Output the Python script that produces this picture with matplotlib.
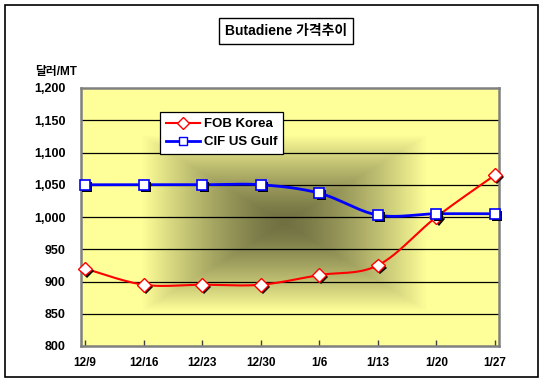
import numpy as np
import matplotlib
matplotlib.use("Agg")
import matplotlib.pyplot as plt
import matplotlib.patheffects as pe
from matplotlib.patches import Rectangle

plt.rcParams['font.family'] = ['Liberation Sans', 'Noto Sans CJK KR', 'DejaVu Sans']
plt.rcParams['font.weight'] = 'bold'

categories = ['12/9', '12/16', '12/23', '12/30', '1/6', '1/13', '1/20', '1/27']
fob_korea = [920, 895, 895, 895, 910, 925, 1000, 1065]
cif_us_gulf = [1050, 1050, 1050, 1050, 1037, 1003, 1005, 1005]
y_ticks = [800, 850, 900, 950, 1000, 1050, 1100, 1150, 1200]
title = 'Butadiene 가격추이'
y_unit = '달러/MT'

W, H = 545, 384
fig = plt.figure(figsize=(W / 100, H / 100), dpi=100)

# outer chart border
fig.patches.append(Rectangle((5 / W, 1 - 377 / H), 533 / W, 372 / H, transform=fig.transFigure,
                             fill=False, edgecolor='black', linewidth=1.2))

L, R, T, B = 81, 499, 88, 346
ax = fig.add_axes([L / W, 1 - B / H, (R - L) / W, (B - T) / H])
x = np.arange(len(categories))
ax.set_xlim(-0.07, len(categories) - 1 + 0.07)
ax.set_ylim(800, 1200)

# rectangular "from center" gradient background
nx, ny = R - L, B - T
px = np.arange(nx)[None, :] + L + 0.5
py = np.arange(ny)[:, None] + T + 0.5
cx, cy = (L + R) / 2 - 6, (T + B) / 2 + 6
t = np.maximum(np.abs(px - cx) / ((R - L) / 2), np.abs(py - cy) / ((B - T) / 2)) / 0.68
t = np.clip(t, 0, 1) ** 1.4
dark = np.array([112, 112, 66]) / 255
light = np.array([255, 255, 153]) / 255
img = dark[None, None, :] * (1 - t[..., None]) + light[None, None, :] * t[..., None]
ax.imshow(img, extent=[ax.get_xlim()[0], ax.get_xlim()[1], 800, 1200], aspect='auto',
          origin='upper', zorder=0, interpolation='bilinear')

for yv in y_ticks[1:-1]:
    ax.axhline(yv, color='black', linewidth=0.9, zorder=1)

for s in ax.spines.values():
    s.set_color('#808080')
    s.set_linewidth(1.8)


def smooth(xs, ys, n=30):
    xs = np.asarray(xs, float)
    ys = np.asarray(ys, float)
    P = np.column_stack([xs, ys])
    out = []
    for i in range(len(P) - 1):
        p0 = P[i - 1] if i > 0 else P[i]
        p1 = P[i]
        p2 = P[i + 1]
        p3 = P[i + 2] if i + 2 < len(P) else P[i + 1]
        c1 = p1 + (p2 - p0) / 6
        c2 = p2 - (p3 - p1) / 6
        tt = np.linspace(0, 1, n)[:, None]
        seg = ((1 - tt) ** 3) * p1 + 3 * ((1 - tt) ** 2) * tt * c1 + 3 * (1 - tt) * tt ** 2 * c2 + tt ** 3 * p2
        out.append(seg if i == 0 else seg[1:])
    out = np.vstack(out)
    return out[:, 0], out[:, 1]


shadow = [pe.SimplePatchShadow(offset=(1.6, -1.6), shadow_rgbFace='black', alpha=1.0), pe.Normal()]

sx, sy = smooth(x, fob_korea)
ax.plot(sx, sy, color='#FF0000', linewidth=1.5, zorder=3)
ax.plot(x, fob_korea, linestyle='none', marker='D', markersize=7, markerfacecolor='white',
        markeredgecolor='#FF0000', markeredgewidth=1.0, zorder=4, path_effects=shadow, clip_on=False)

sx, sy = smooth(x, cif_us_gulf)
ax.plot(sx, sy, color='#0000FF', linewidth=2.0, zorder=3)
ax.plot(x, cif_us_gulf, linestyle='none', marker='s', markersize=7, markerfacecolor='white',
        markeredgecolor='#0000FF', markeredgewidth=1.2, zorder=4, path_effects=shadow, clip_on=False)

# legend proxies
h1, = ax.plot([], [], color='#FF0000', linewidth=1.5, marker='D', markersize=6, markerfacecolor='white',
              markeredgecolor='#FF0000', label='FOB Korea')
h2, = ax.plot([], [], color='#0000FF', linewidth=2.0, marker='s', markersize=6, markerfacecolor='white',
              markeredgecolor='#0000FF', label='CIF US Gulf')
leg = ax.legend(handles=[h1, h2], loc='upper left', bbox_to_anchor=(160 / W, 1 - 112 / H),
                bbox_transform=fig.transFigure, borderaxespad=0, fancybox=False, framealpha=1,
                edgecolor='black', shadow=False, prop={'size': 9.5, 'weight': 'bold'},
                handlelength=2.6, handletextpad=0.25, borderpad=0.45, labelspacing=0.45)
leg.get_frame().set_linewidth(0.9)
leg.set_zorder(6)

ax.set_xticks(x)
ax.set_xticklabels(categories, fontsize=8.5, fontweight='bold')
ax.set_yticks(y_ticks)
ax.set_yticklabels([f'{v:,}' for v in y_ticks], fontsize=9, fontweight='bold')
ax.tick_params(axis='x', direction='in', length=4, width=1, color='#404040', pad=8)
ax.tick_params(axis='y', length=0, pad=11)

fig.text(35 / W, 1 - 72 / H, y_unit, fontsize=8.5, fontweight='bold', ha='left', va='center')

fig.text(286 / W, 1 - 31 / H, title, fontsize=10, fontweight='bold', ha='center', va='center',
         bbox=dict(boxstyle='square,pad=0.4', facecolor='white', edgecolor='black', linewidth=1.0))

fig.savefig('out.png', dpi=100)
